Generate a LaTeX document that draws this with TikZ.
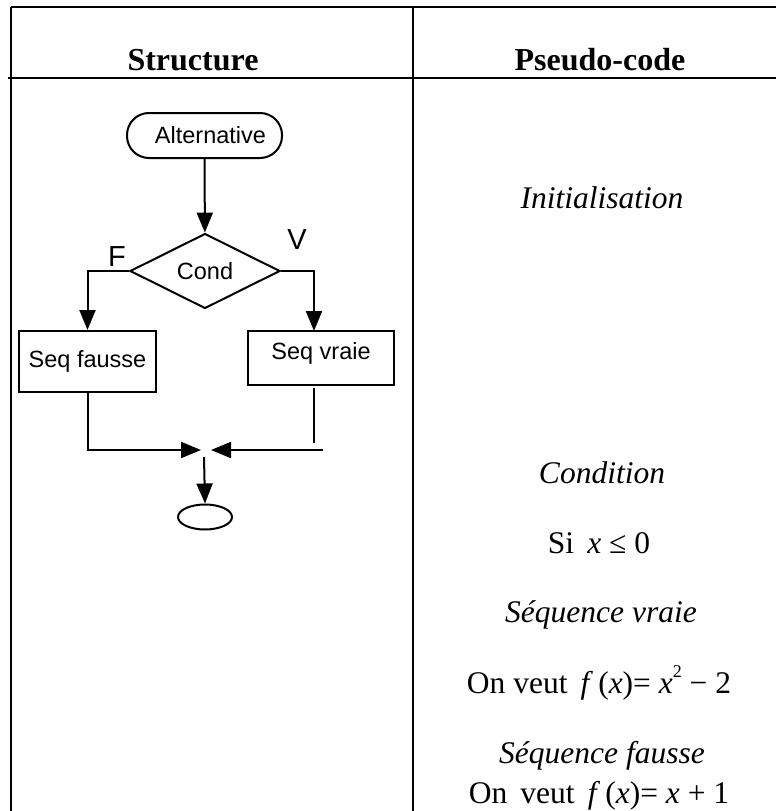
\documentclass[tikz,border=0pt]{standalone}
\usepackage{fontspec}
\setmainfont{Liberation Serif}
\newfontfamily\arialf{Liberation Sans}
\usetikzlibrary{shapes.geometric,arrows.meta}
\begin{document}
\begin{tikzpicture}[x=1pt,y=-1pt,line width=2pt,
  arr/.style={-{Triangle[length=20pt,width=16pt]}},
  fc/.style={font=\arialf\fontsize{23.5}{28}\selectfont},
  lab/.style={font=\arialf\fontsize{29}{34}\selectfont},
  hd/.style={font=\bfseries\fontsize{32}{36}\selectfont,anchor=base},
  tx/.style={font=\fontsize{31.5}{36}\selectfont,anchor=base},
  boxst/.style={draw,fc,inner sep=0pt}]
\useasboundingbox (0,0) rectangle (776,811);
% table
\coordinate (tl) at (11,7);
\coordinate (tr) at (776,7);
\coordinate (hl) at (8,78);
\coordinate (hr) at (776,78);
\coordinate (bl) at (11,811);
\coordinate (ct) at (413,7);
\coordinate (cb) at (413,811);
\draw (tl) -- (tr);
\draw (hl) -- (hr);
\draw (tl) -- (bl);
\draw (ct) -- (cb);
% headers
\node[hd] (h1) at (193,70) {Structure};
\node[hd] (h2) at (600,70) {Pseudo-code};
% pseudo-code
\node[tx] (p1) at (602,208) {\textit{Initialisation}};
\node[tx] (p2) at (602,483) {\textit{Condition}};
\node[tx] (p3) at (599,553) {Si\, \textit{x} ≤ 0};
\node[tx] (p4) at (601,622) {\textit{Séquence vraie}};
\node[tx] (p5) at (599,693) {On veut \,\textit{f}\,(\textit{x})= \textit{x}\raisebox{0.5em}{\fontsize{18}{18}\selectfont 2} − 2};
\node[tx] (p6) at (602,763) {\textit{Séquence fausse}};
\node[tx] (p7) at (599,803) {On\, veut \,\textit{f}\,(\textit{x})= \textit{x} + 1};
% flowchart
\node[boxst,rounded corners=22pt,minimum width=155pt,minimum height=45pt] (alt) at (204.5,135.5) {\hspace{12pt}Alternative};
\node[boxst,diamond,minimum width=150pt,minimum height=75pt,aspect=2] (cond) at (205,271) {Cond};
\node[lab] (F) at (117,257) {F};
\node[lab] (V) at (297,240) {V};
\node[boxst,minimum width=137pt,minimum height=61pt] (sf) at (87.5,361.5) {Seq fausse};
\node[boxst,minimum width=146pt,minimum height=54pt,text depth=15pt] (sv) at (321,358) {Seq vraie};
\node[draw,ellipse,minimum width=54pt,minimum height=25pt,inner sep=0pt] (end) at (205,517) {};
\coordinate (vin) at (314,331);
\coordinate (vtop) at (314,388);
\coordinate (vb) at (314,443);
\coordinate (hstart) at (323,450);
\coordinate (ml) at (201,450);
\coordinate (mr) at (211,450);
\coordinate (md) at (204,457);
\draw[arr] (alt) -- (cond);
\draw[arr] (cond.west) -| (sf.north);
\draw[arr] (cond.east) -| (vin);
\draw[arr] (sf.south) |- (ml);
\draw (vtop) -- (vb);
\draw[arr] (hstart) -- (mr);
\draw[arr] (md) -- (end.north);
\end{tikzpicture}
\end{document}
